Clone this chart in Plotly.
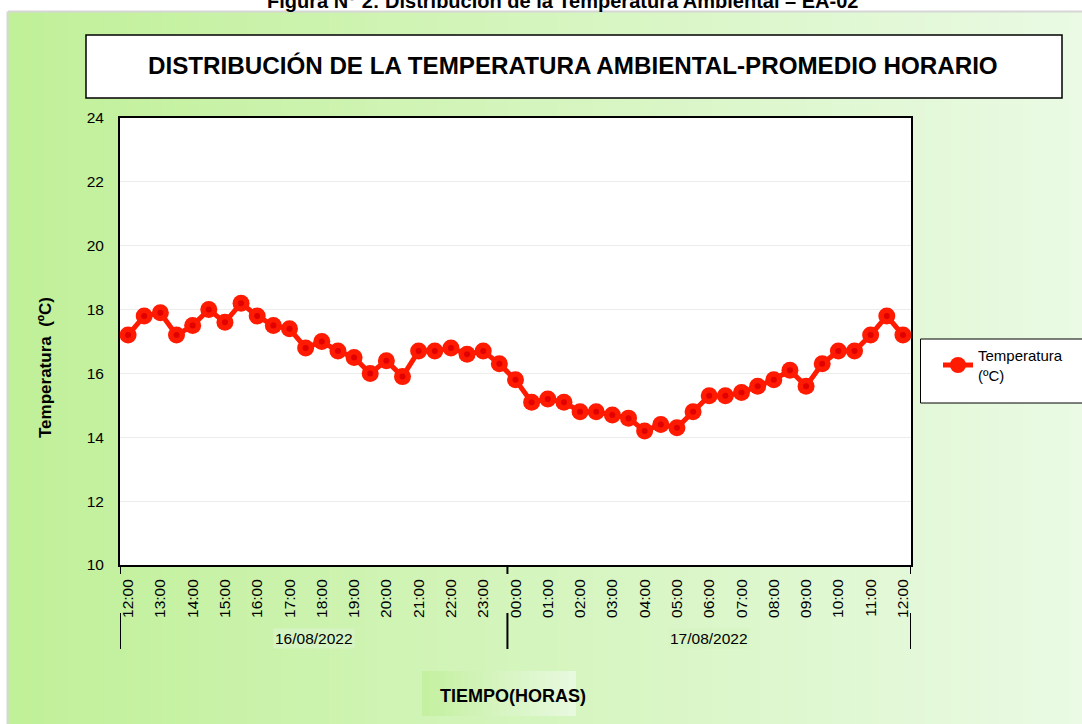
import plotly.graph_objects as go

# ---------------- data ----------------
time_labels = [
    "12:00", "12:30", "13:00", "13:30", "14:00", "14:30", "15:00", "15:30",
    "16:00", "16:30", "17:00", "17:30", "18:00", "18:30", "19:00", "19:30",
    "20:00", "20:30", "21:00", "21:30", "22:00", "22:30", "23:00", "23:30",
    "00:00", "00:30", "01:00", "01:30", "02:00", "02:30", "03:00", "03:30",
    "04:00", "04:30", "05:00", "05:30", "06:00", "06:30", "07:00", "07:30",
    "08:00", "08:30", "09:00", "09:30", "10:00", "10:30", "11:00", "11:30",
    "12:00",
]
temperature = [
    17.2, 17.8, 17.9, 17.2, 17.5, 18.0, 17.6, 18.2,
    17.8, 17.5, 17.4, 16.8, 17.0, 16.7, 16.5, 16.0,
    16.4, 15.9, 16.7, 16.7, 16.8, 16.6, 16.7, 16.3,
    15.8, 15.1, 15.2, 15.1, 14.8, 14.8, 14.7, 14.6,
    14.2, 14.4, 14.3, 14.8, 15.3, 15.3, 15.4, 15.6,
    15.8, 16.1, 15.6, 16.3, 16.7, 16.7, 17.2, 17.8,
    17.2,
]
dates = ["16/08/2022", "17/08/2022"]
date_group_sizes = [24, 25]
y_ticks = [10, 12, 14, 16, 18, 20, 22, 24]

series_name = "Temperatura<br>(ºC)"
title_text = "DISTRIBUCIÓN DE LA TEMPERATURA AMBIENTAL-PROMEDIO HORARIO"
caption_text = "Figura N° 2: Distribución de la Temperatura Ambiental – EA-02"
x_title = "TIEMPO(HORAS)"
y_title = "Temperatura  (ºC)"

# ---------------- geometry ----------------
W, H = 1082, 724
L, R, T, B = 120, 911, 118, 565
FONT = "Liberation Sans Narrow, Arial Narrow, Liberation Sans, Arial, sans-serif"


def px(x):
    return (x - L) / (R - L)


def py(y):
    return (B - y) / (B - T)


idx = list(range(len(temperature)))
tick_idx = [i for i, t in enumerate(time_labels) if t.endswith(":00")]
tick_txt = [time_labels[i] for i in tick_idx]

fig = go.Figure()
fig.add_trace(go.Scatter(
    x=idx, y=temperature, mode="lines+markers", name=series_name,
    line=dict(color="#ff1a00", width=5),
    marker=dict(color="#ff1a00", size=17),
))
fig.add_trace(go.Scatter(
    x=idx, y=temperature, mode="markers", showlegend=False, hoverinfo="skip",
    marker=dict(color="#e00000", size=6),
))

shapes = []
# background gradient
c0 = (192, 240, 152)
c1 = (234, 250, 228)
x_start, x_end = 8, W
N = 90
for k in range(N):
    a = x_start + (x_end - x_start) * k / N
    b = x_start + (x_end - x_start) * (k + 1) / N + 0.6
    f = (k + 0.5) / N
    col = tuple(round(c0[j] + (c1[j] - c0[j]) * f) for j in range(3))
    shapes.append(dict(type="rect", xref="paper", yref="paper",
                       x0=px(a), x1=px(b), y0=py(H + 2), y1=py(12),
                       fillcolor="rgb(%d,%d,%d)" % col, line=dict(width=0),
                       layer="below"))
# gray frame of green panel
shapes.append(dict(type="line", xref="paper", yref="paper", x0=px(8), x1=px(W),
                   y0=py(11.5), y1=py(11.5), line=dict(color="#d6d6d6", width=2), layer="below"))
shapes.append(dict(type="line", xref="paper", yref="paper", x0=px(7.5), x1=px(7.5),
                   y0=py(11.5), y1=py(H), line=dict(color="#d6d6d6", width=2), layer="below"))
# white plot area
shapes.append(dict(type="rect", xref="paper", yref="paper", x0=0, x1=1, y0=0, y1=1,
                   fillcolor="white", line=dict(width=0), layer="below"))
# legend box (extends past the right edge, as in the reference)
shapes.append(dict(type="rect", xref="paper", yref="paper", x0=px(920.5), x1=px(W + 5),
                   y0=py(403), y1=py(339), fillcolor="white",
                   line=dict(color="black", width=1), layer="below"))
# x title highlight box
xa, xb = 422, 576
M = 20
ca = (196, 240, 160)
cb = (232, 249, 224)
for k in range(M):
    a = xa + (xb - xa) * k / M
    b = xa + (xb - xa) * (k + 1) / M + 0.6
    f = (k + 0.5) / M
    col = tuple(round(ca[j] + (cb[j] - ca[j]) * f) for j in range(3))
    shapes.append(dict(type="rect", xref="paper", yref="paper",
                       x0=px(a), x1=px(min(b, xb)), y0=py(716), y1=py(671),
                       fillcolor="rgb(%d,%d,%d)" % col, line=dict(width=0),
                       layer="below"))
# title box
shapes.append(dict(type="rect", xref="paper", yref="paper",
                   x0=px(86), x1=px(1062), y0=py(98), y1=py(35),
                   fillcolor="white", line=dict(color="black", width=1.5)))
# date group separators
bounds = [-0.5]
for s in date_group_sizes:
    bounds.append(bounds[-1] + s)
for bx in bounds:
    for (ya, yb) in [(565, 574), (613, 649)]:
        shapes.append(dict(type="line", xref="x", yref="paper", x0=bx, x1=bx,
                           y0=py(ya), y1=py(yb), line=dict(color="black", width=2)))

annotations = []
# date labels
for d, a, b in zip(dates, bounds[:-1], bounds[1:]):
    annotations.append(dict(text=d, x=(a + b) / 2, xref="x", y=py(638), yref="paper",
                            showarrow=False, font=dict(family=FONT, size=15.5, color="black"),
                            xanchor="center", yanchor="middle",
                            bgcolor="rgba(214,244,196,0.9)"))
annotations.append(dict(text="<b>%s</b>" % title_text, x=px(573), y=py(65), xref="paper",
                        yref="paper", showarrow=False, xanchor="center", yanchor="middle",
                        font=dict(family=FONT, size=24.2, color="black")))
annotations.append(dict(text="<b>%s</b>" % x_title, x=px(513), y=py(696), xref="paper",
                        yref="paper", showarrow=False, xanchor="center", yanchor="middle",
                        font=dict(family=FONT, size=18, color="black")))
annotations.append(dict(text="<b>%s</b>" % y_title, x=px(45), y=py(368), xref="paper",
                        yref="paper", showarrow=False, xanchor="center", yanchor="middle",
                        textangle=-90, font=dict(family=FONT, size=17, color="black")))
annotations.append(dict(text="<b>%s</b>" % caption_text, x=px(562), y=py(14), xref="paper",
                        yref="paper", showarrow=False, xanchor="center", yanchor="bottom",
                        font=dict(family=FONT, size=20, color="black")))

fig.update_layout(
    width=W, height=H, autosize=False,
    margin=dict(l=L, r=W - R, t=T, b=H - B, pad=0),
    paper_bgcolor="white", plot_bgcolor="rgba(0,0,0,0)",
    font=dict(family=FONT, size=15, color="black"),
    shapes=shapes, annotations=annotations,
    showlegend=True,
    legend=dict(x=px(938), y=py(339), xanchor="left", yanchor="top",
                bgcolor="rgba(0,0,0,0)", borderwidth=0,
                font=dict(family=FONT, size=15, color="black"),
                tracegroupgap=0),
    xaxis=dict(range=[-0.5, len(temperature) - 0.5], tickmode="array",
               tickvals=tick_idx, ticktext=tick_txt, tickangle=-90,
               showgrid=False, zeroline=False, showline=True, mirror=True,
               linecolor="black", linewidth=2, ticks="",
               tickfont=dict(family=FONT, size=15.5, color="black"),
               ticklabelstandoff=6),
    yaxis=dict(range=[10, 24], tickmode="array", tickvals=y_ticks,
               showgrid=True, gridcolor="#ececec", gridwidth=1,
               zeroline=False, showline=True, mirror=True,
               linecolor="black", linewidth=2, ticks="",
               tickfont=dict(family=FONT, size=15.5, color="black"),
               ticklabelstandoff=11),
)

post = """
document.documentElement.style.margin='0';
document.documentElement.style.overflow='hidden';
document.body.style.margin='0';
document.body.style.padding='0';
document.body.style.overflow='hidden';
var gd = document.getElementById('{plot_id}');
gd.style.width='1082px'; gd.style.height='724px';
Plotly.relayout(gd, {width:1082, height:724, autosize:false});
"""

fig.write_html("out.html", config={"responsive": False, "displayModeBar": False},
               post_script=post)
